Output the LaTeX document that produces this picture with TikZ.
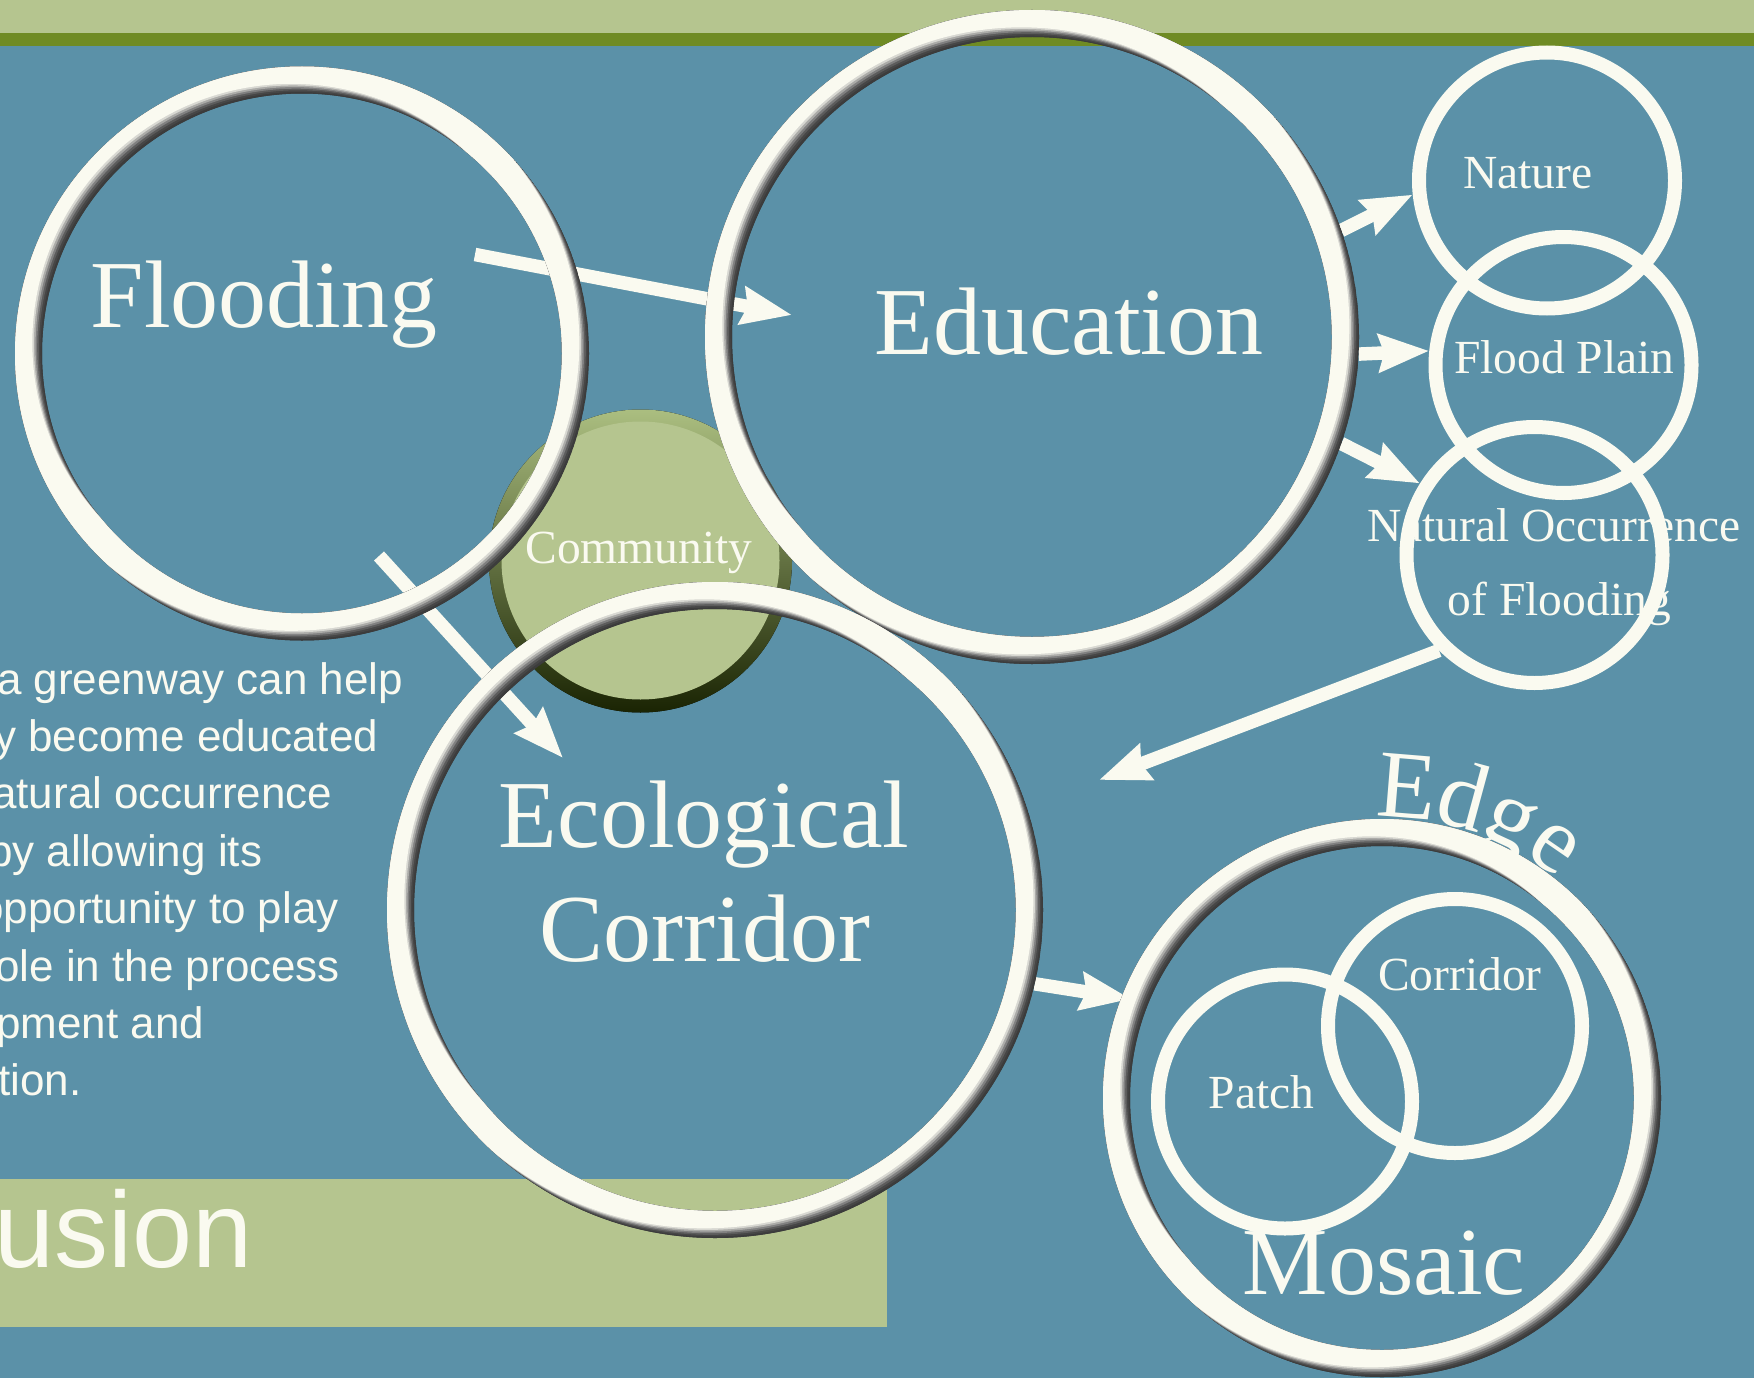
\documentclass[tikz,border=0pt]{standalone}
\usepackage{fontspec}
\setmainfont{Liberation Serif}
\newfontfamily\gsans{Liberation Sans}
\usetikzlibrary{arrows.meta}
\definecolor{bgblue}{HTML}{5B91A8}
\definecolor{bandlt}{HTML}{B5C58F}
\definecolor{banddk}{HTML}{6F8B24}
\definecolor{cream}{HTML}{FAFAF0}
\definecolor{bv0}{HTML}{383838}
\definecolor{bv1}{HTML}{3C3C3C}
\definecolor{bv2}{HTML}{464646}
\definecolor{bv3}{HTML}{5C5C5C}
\definecolor{bv4}{HTML}{808080}
\definecolor{bv5}{HTML}{ABABA8}
\definecolor{bv6}{HTML}{D8D8D2}
\definecolor{cmtop}{HTML}{ABBE80}
\definecolor{cmmid}{HTML}{7C9838}
\definecolor{cmbot}{HTML}{1A2403}
\definecolor{cmin}{HTML}{B5C58F}
\newcommand\bevring[4]{%
  \pgfmathsetmacro\rin{#3-#4}%
  \pgfmathsetmacro\rc{#3-#4/2}%
  \pgfmathsetmacro\lw{#4+2}%
  \begin{scope}[even odd rule]
    \clip (#1,#2) circle[radius=#3 pt] (#1,#2) circle[radius=\rin pt];
    \foreach \k/\c in {0/bv0,1/bv1,2/bv2,3/bv3,4/bv4,5/bv5,6/bv6,7/cream}{%
      \pgfmathsetmacro\s{2.3*\k-1}%
      \draw[draw=\c, line width=\lw pt] ({#1-0.707*\s},{#2-0.707*\s}) circle[radius=\rc pt];
    }
  \end{scope}}
\tikzset{
  big/.style={font=\fontsize{96}{115}\selectfont, text=cream, inner sep=0pt, anchor=base},
  small/.style={font=\fontsize{47.5}{60}\selectfont, text=cream, inner sep=0pt, anchor=base},
  para/.style={font=\gsans\fontsize{44}{57}\selectfont, text=cream, inner sep=0pt, anchor=base west},
  thinring/.style={draw=cream, line width=14pt},
  holder/.style={circle, inner sep=0pt, outer sep=0pt},
  conn/.style={draw=cream, line width=13.5pt, -{Stealth[length=50pt,width=37pt,inset=5pt]}},
}
\begin{document}
\begin{tikzpicture}[x=1pt,y=-1pt]
\useasboundingbox (0,0) rectangle (1754,1378);
\clip (0,0) rectangle (1754,1378);
% background
\fill[bgblue] (0,0) rectangle (1754,1378);
\fill[bandlt] (0,0) rectangle (1754,33);
\fill[banddk] (0,33) rectangle (1754,46);
\fill[bandlt] (0,1179) rectangle (887,1327);
\node[font=\gsans\fontsize{108}{120}\selectfont, text=cream, inner sep=0pt, anchor=base east] (title) at (253,1267.5) {usion};
% paragraph
\node[para] (p1) at (-3,694) {a greenway can help};
\node[para] (p2) at (-6,751.4) {y become educated};
\node[para] (p3) at (-8,808.9) {atural occurrence};
\node[para] (p4) at (-12,866.3) {by allowing its};
\node[para] (p5) at (-21,923.7) {opportunity to play};
\node[para] (p6) at (-5,981) {ole in the process};
\node[para] (p7) at (-4,1038.4) {pment and};
\node[para] (p8) at (-2,1095.8) {tion.};
% holders
\node[holder, minimum size=574pt] (flood) at (302,353.5) {};
\node[holder, minimum size=654pt] (edu) at (1032,337) {};
\node[holder, minimum size=656pt] (eco) at (715,910) {};
\node[holder, minimum size=558pt] (mosaic) at (1382,1098) {};
\node[holder, minimum size=303pt] (comm) at (640.5,561) {};
\node[holder, minimum size=270pt] (nature) at (1547,180.5) {};
\node[holder, minimum size=270pt] (fplain) at (1563.5,365) {};
\node[holder, minimum size=270pt] (natocc) at (1534.5,555) {};
\node[holder, minimum size=270pt] (corr) at (1455,1026) {};
\node[holder, minimum size=270pt] (patch) at (1285,1101.5) {};
% community
\fill[top color=cmtop, middle color=cmmid, bottom color=cmbot] (comm.center) circle[radius=151.5pt];
\fill[cmin] (640.5,560.5) circle[radius=139pt];
\node[small] (commtxt) at (639,563) {Community};
% connectors
\coordinate (a1s) at (475,254.5);
\coordinate (a1t) at (792,315);
\coordinate (a2s) at (379,556);
\coordinate (a2t) at (563,758);
\coordinate (a6t) at (1099,780);
\coordinate (a7t) at (1131,999);
\draw[conn] (a1s) -- (a1t);
\draw[conn] (a2s) -- (a2t);
\draw[conn] (edu.19.2) -- (nature.186.1);
\draw[conn] (edu.357.6) -- (fplain.174);
\draw[conn] (edu.341.6) -- (natocc.148);
\draw[conn] (natocc.225.2) -- (a6t);
\draw[conn] (eco.347.3) -- (a7t);
% small circles with labels
\node[small] (naturetxt) at (1528,188.5) {Nature};
\node[small] (fplaintxt) at (1564.4,373) {Flood Plain};
\node[small] (natocctxt) at (1553.6,541.5) {Natural Occurrence};
\node[small] (natocctxtb) at (1559.4,615) {of Flooding};
\draw[thinring] (nature.center) circle[radius=128pt];
\draw[thinring] (fplain.center) circle[radius=128pt];
\draw[thinring] (natocc.center) circle[radius=128pt];
% big bevelled rings
\bevring{302}{353.5}{287}{27}
\bevring{1032}{337}{327}{27}
\bevring{715}{910}{328}{27}
\bevring{1382}{1098}{279}{27}
\node[big] (floodtxt) at (264,327) {Flooding};
\node[big] (edutxt) at (1069,354) {Education};
\node[big] (ecotxt) at (704,847) {Ecological};
\node[big] (ecotxtb) at (705,961) {Corridor};
% mosaic contents
\draw[thinring] (corr.center) circle[radius=127pt];
\draw[thinring] (patch.center) circle[radius=127pt];
\node[small] (corrtxt) at (1460,990.6) {Corridor};
\node[small] (patchtxt) at (1261.7,1108.7) {Patch};
\node[big] (mosaictxt) at (1384,1294) {Mosaic};
% curved Edge
\foreach \ch/\a [count=\i] in {E/4.7,d/15.2,g/24.9,e/34.5}{%
  \node[big, rotate=-\a] (edge\i) at ({1382+281*sin(\a)},{1098-281*cos(\a)}) {\ch};
}
\end{tikzpicture}
\end{document}
